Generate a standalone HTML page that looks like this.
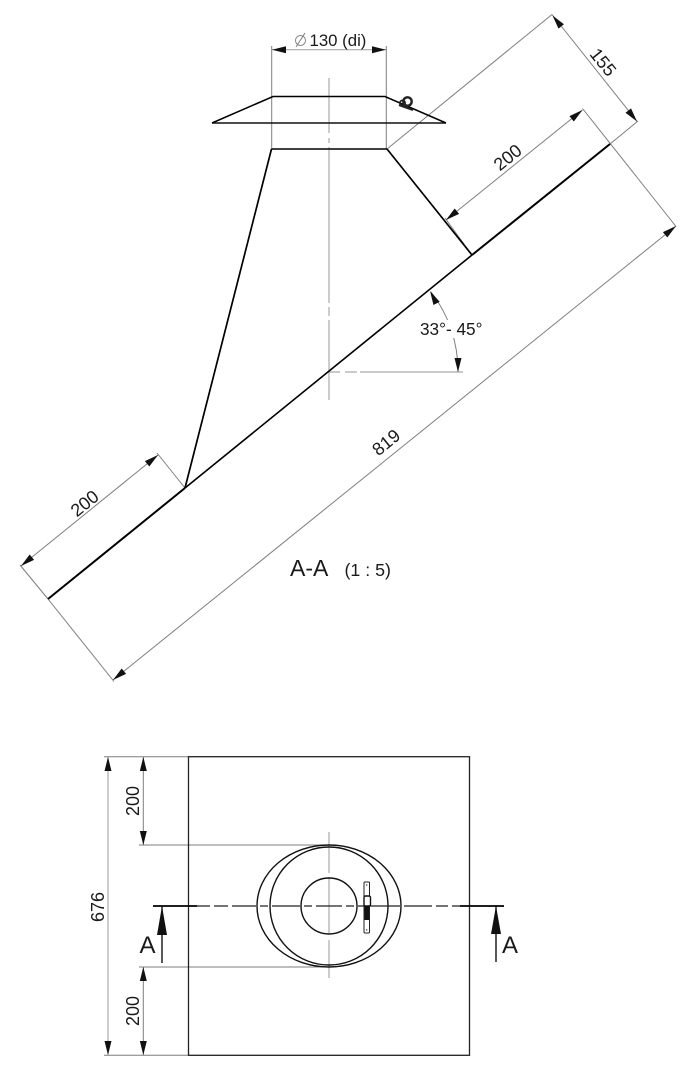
<!DOCTYPE html>
<html>
<head>
<meta charset="utf-8">
<style>
html,body{margin:0;padding:0;background:#fff;width:699px;height:1080px;overflow:hidden}
svg{display:block;position:absolute;left:0;top:0}
text{font-family:"Liberation Sans",sans-serif;fill:#1a1a1a}
.d{stroke:#7e7e7e;stroke-width:1;fill:none}
.c{stroke:#aaa;stroke-width:1.2;fill:none}
.k{stroke:#111;stroke-width:1.4;fill:none}
.t{stroke:#000;stroke-width:2;fill:none}
.a{fill:#111;stroke:none}
</style>
</head>
<body>
<svg width="699" height="1080" viewBox="0 0 699 1080" xmlns="http://www.w3.org/2000/svg">
<defs>
<polygon id="ah" class="a" points="0,0 -14,-3.500 -14,3.500"/>
</defs>

<!-- centre lines upper -->
<path class="c" d="M329 78V133M329 138V143M329 147V303M329 307V316M329 320V400"/>
<path class="c" d="M329 372H340M345 372H357M360 372H463"/>

<!-- extension / dimension lines upper -->
<path class="d" d="M271.700 46V149M386.300 46V149"/>
<path class="c" d="M272 49.700H386"/>
<path class="d" d="M387 149L552 14.500M552 14.500L637.500 122M610 144L638 121"/>
<path class="d" d="M472 255L445 218M446 220L582.500 110M582.500 108.500L676 226.500"/>
<path class="d" d="M676 226L113 680M48 599L114 681.500"/>
<path class="d" d="M20 565L48 599M157 453L185 488M21 566L158 455"/>
<path class="d" d="M431 292A129 129 0 0 1 458 372"/>
<rect x="440" y="320" width="30" height="18" fill="#fff"/>

<!-- arrowheads upper -->
<use href="#ah" transform="translate(272,49.700) rotate(180)"/>
<use href="#ah" transform="translate(386,49.700)"/>
<use href="#ah" transform="translate(552.500,15.500) rotate(231.500)"/>
<use href="#ah" transform="translate(637,121.500) rotate(51.500)"/>
<use href="#ah" transform="translate(446,220) rotate(141)"/>
<use href="#ah" transform="translate(582.500,110) rotate(-39)"/>
<use href="#ah" transform="translate(676,226) rotate(-39)"/>
<use href="#ah" transform="translate(113,680) rotate(141)"/>
<use href="#ah" transform="translate(21,566) rotate(141)"/>
<use href="#ah" transform="translate(158,455) rotate(-39)"/>
<use href="#ah" transform="translate(430,291) rotate(-118)"/>
<use href="#ah" transform="translate(458,372) rotate(90)"/>

<!-- object lines upper -->
<path class="k" d="M212 123H446"/>
<path class="t" style="stroke-width:1.500" d="M212 123L273 96.500H385L446 123"/>
<path class="t" style="stroke-width:1.500" d="M271.500 149H387"/>
<path class="t" style="stroke-width:1.700" d="M271.500 149L185 488M387 149L472 255"/>
<path class="t" style="stroke-width:1.600" d="M185 488L472 255"/>
<path class="t" d="M48 599L185 488M472 255L610 144"/>
<circle cx="407.500" cy="101.500" r="4.200" fill="none" stroke="#222" stroke-width="2.400"/>
<circle cx="402.500" cy="103" r="2.600" fill="none" stroke="#222" stroke-width="1.800"/>
<path d="M399 105L413 110" stroke="#222" stroke-width="2.200" fill="none"/>

<!-- labels upper -->
<circle cx="300.500" cy="40.500" r="5" fill="none" stroke="#8c8c8c" stroke-width="1"/>
<path class="d" d="M296 47L305 33"/>
<text x="309.500" y="46" font-size="16.800">130 (di)</text>
<text transform="translate(508.500,158.500) rotate(-39)" font-size="18" text-anchor="middle" dominant-baseline="middle">200</text>
<text transform="translate(602,63) rotate(51)" font-size="18" text-anchor="middle" dominant-baseline="middle">155</text>
<text transform="translate(85.500,504.500) rotate(-39)" font-size="18" text-anchor="middle" dominant-baseline="middle">200</text>
<text transform="translate(387,443.500) rotate(-39)" font-size="18" text-anchor="middle" dominant-baseline="middle">819</text>
<text x="420" y="335" font-size="17.200">33°- 45°</text>
<text x="290" y="576" font-size="23">A-A</text>
<text x="344.500" y="576" font-size="17.800">(1 : 5)</text>

<!-- lower view -->
<path class="d" d="M104 756.700H188M139 845H329M139 967H329M104 1055.300H188"/>
<path class="c" d="M108 757V1055"/>
<path class="d" d="M143.300 757V845M143.300 967V1055"/>
<use href="#ah" transform="translate(108,757) rotate(-90)"/>
<use href="#ah" transform="translate(108,1055) rotate(90)"/>
<use href="#ah" transform="translate(143.300,757) rotate(-90)"/>
<use href="#ah" transform="translate(143.300,845) rotate(90)"/>
<use href="#ah" transform="translate(143.300,967) rotate(-90)"/>
<use href="#ah" transform="translate(143.300,1055) rotate(90)"/>

<rect x="188.500" y="756.700" width="281" height="298.600" fill="none" stroke="#222" stroke-width="1.300"/>

<path class="c" d="M329 832V873M329 877V933M329 940V978"/>
<ellipse cx="329" cy="906" rx="72" ry="61" class="k"/>
<circle cx="329" cy="906" r="59" class="k"/>
<circle cx="329" cy="906" r="28" class="k"/>

<path stroke="#222" stroke-width="1.200" fill="none" d="M197 906H210M214 906H228M232 906H256M260 906H268M272 906H300M304 906H312M316 906H342M346 906H354M358 906H400M404 906H432M436 906H448M452 906H460"/>
<path class="t" style="stroke-width:1.700" d="M153 906H197M460 906H504"/>

<!-- latch -->
<rect x="364" y="882" width="5.500" height="51" rx="1" fill="#fff" stroke="#222" stroke-width="1"/>
<rect x="364.500" y="905" width="4.800" height="15" fill="#111"/>
<rect x="364" y="896" width="6.500" height="10" rx="1.500" fill="#fff" stroke="#111" stroke-width="1.400"/>
<circle cx="366.700" cy="885" r="0.700" fill="#333"/>
<circle cx="366.700" cy="930" r="0.700" fill="#333"/>

<!-- section arrows -->
<path class="k" d="M162 906V963M496 906V962"/>
<polygon class="a" points="162,906 157,935 167,935"/>
<polygon class="a" points="496,906 491,934 501,934"/>
<text x="139.500" y="953" font-size="24">A</text>
<text x="502" y="953" font-size="24">A</text>

<text transform="translate(99,907) rotate(-90)" font-size="18" text-anchor="middle" dominant-baseline="middle">676</text>
<text transform="translate(134,801) rotate(-90)" font-size="18" text-anchor="middle" dominant-baseline="middle">200</text>
<text transform="translate(134,1011) rotate(-90)" font-size="18" text-anchor="middle" dominant-baseline="middle">200</text>
</svg>
</body>
</html>
